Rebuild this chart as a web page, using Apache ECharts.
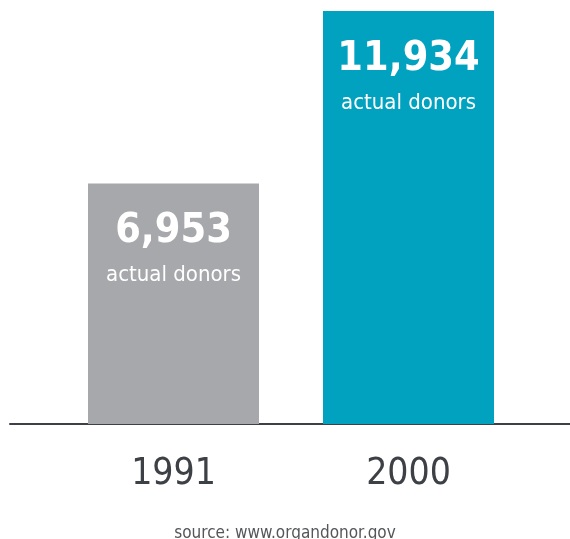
<!DOCTYPE html>
<html>
<head>
<meta charset="utf-8">
<script src="https://cdn.jsdelivr.net/npm/echarts@6/dist/echarts.min.js"></script>
<style>
  html, body { margin: 0; padding: 0; background: #fff; }
  #chart { width: 570px; height: 539px; }
</style>
</head>
<body>
<div id="chart"></div>
<script>
// 数据
var years = ['1991', '2000'];
var donors = [6953, 11934];
var barColors = ['#a7a8ac', '#00a2bf'];
var sourceText = 'source: www.organdonor.gov';

var FONT = '"Liberation Sans Narrow", "DejaVu Sans Condensed", Roboto, sans-serif';

var myChart = echarts.init(document.getElementById('chart'));

var option = {
    animation: false,
    title: {
        text: sourceText,
        left: 'center',
        top: 520,
        textStyle: {
            fontFamily: FONT,
            fontSize: 17,
            fontWeight: 'normal',
            color: '#555659'
        }
    },
    grid: [{
        left: 56,
        right: 44,
        top: 11,
        bottom: 115
    }, {
        // 只用来画底线
        left: 10,
        right: 0,
        top: 11,
        bottom: 115
    }],
    xAxis: [{
        type: 'category',
        gridIndex: 0,
        data: years,
        axisLine: { show: false },
        axisTick: { show: false },
        axisLabel: {
            margin: 30,
            fontFamily: FONT,
            fontSize: 37,
            lineHeight: 40,
            color: '#3d4045'
        }
    }, {
        type: 'value',
        gridIndex: 1,
        min: 0,
        max: 1,
        axisLine: {
            show: true,
            lineStyle: { color: '#3d4045', width: 2 }
        },
        axisTick: { show: false },
        axisLabel: { show: false },
        splitLine: { show: false }
    }],
    yAxis: [{
        type: 'value',
        gridIndex: 0,
        min: 0,
        max: 11934,
        show: false
    }, {
        type: 'value',
        gridIndex: 1,
        show: false
    }],
    series: [{
        type: 'bar',
        xAxisIndex: 0,
        yAxisIndex: 0,
        barWidth: 171,
        z: 1,
        data: donors.map(function(v, i) {
            return { value: v, itemStyle: { color: barColors[i] } };
        }),
        label: {
            show: true,
            position: 'insideTop',
            distance: 25,
            formatter: function(p) {
                return '{v|' + p.value.toLocaleString('en-US') + '}\n{a|actual donors}';
            },
            rich: {
                v: {
                    fontFamily: FONT,
                    fontSize: 41,
                    fontWeight: 'bold',
                    color: '#ffffff',
                    lineHeight: 46
                },
                a: {
                    fontFamily: FONT,
                    fontSize: 22,
                    color: '#ffffff',
                    lineHeight: 42
                }
            }
        }
    }]
};

myChart.setOption(option);
</script>
</body>
</html>
